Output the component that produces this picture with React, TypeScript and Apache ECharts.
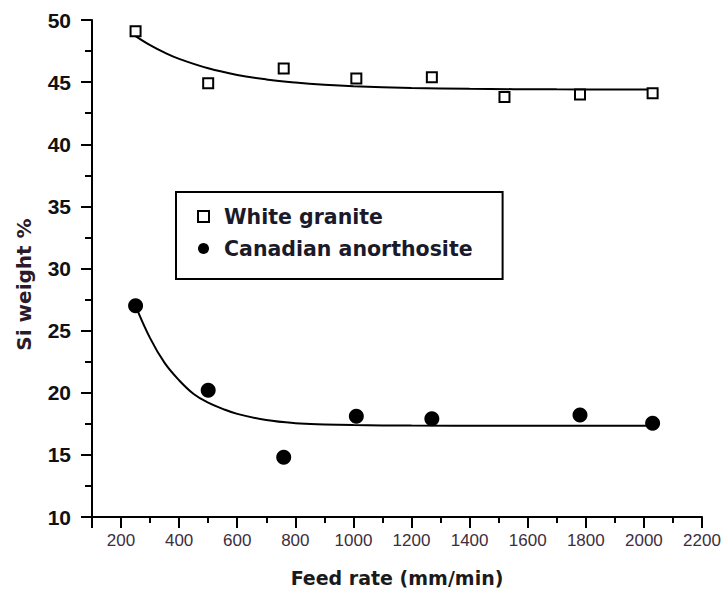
import React, { useEffect, useRef } from "react";
import * as echarts from "echarts";

// Measured points
const graniteFeed = [250, 500, 760, 1010, 1270, 1520, 1780, 2030];
const graniteSi = [49.1, 44.9, 46.1, 45.3, 45.4, 43.8, 44.0, 44.1];

const anorthFeed = [250, 500, 760, 1010, 1270, 1780, 2030];
const anorthSi = [27.0, 20.2, 14.8, 18.1, 17.9, 18.2, 17.55];

// Fitted curves
const graniteFitFeed = [250, 300, 350, 400, 500, 600, 700, 800, 900, 1000, 1200, 1400, 1700, 2030];
const graniteFitSi = [48.7, 47.97, 47.37, 46.87, 46.11, 45.58, 45.22, 44.97, 44.79, 44.67, 44.53, 44.46, 44.42, 44.4];

const anorthFitFeed = [250, 300, 350, 400, 450, 500, 550, 600, 700, 800, 900, 1000, 1200, 1500, 2030];
const anorthFitSi = [27.0, 24.4, 22.4, 21.0, 19.9, 19.2, 18.7, 18.3, 17.8, 17.55, 17.45, 17.4, 17.36, 17.35, 17.35];

const legendNames = ["White granite", "Canadian anorthosite"];

const zip = (xs: number[], ys: number[]) => xs.map((x, i) => [x, ys[i]]);

export default function App() {
  const ref = useRef<HTMLDivElement>(null);
  useEffect(() => {
    if (!ref.current) return;
    const chart = echarts.init(ref.current, undefined, { renderer: "svg" });
    const black = "#000";
    chart.setOption({
      animation: false,
      backgroundColor: "#fff",
      grid: { left: 92, right: 23, top: 20, bottom: 82 },
      legend: {
        data: [
          { name: legendNames[0], icon: "rect" },
          { name: legendNames[1], icon: "circle" },
        ],
        orient: "vertical",
        left: 176,
        top: 192,
        itemWidth: 11,
        itemHeight: 11,
        itemGap: 11,
        padding: [14, 30, 20, 21],
        borderColor: black,
        borderWidth: 2,
        backgroundColor: "#fff",
        textStyle: {
          fontFamily: "DejaVu Sans",
          fontWeight: "bold",
          fontSize: 20.5,
          color: "#1a1a2a",
          padding: [0, 0, 0, 10],
        },
      },
      xAxis: {
        type: "value",
        min: 100,
        max: 2200,
        splitNumber: 10,
        axisLine: { show: true, onZero: false, lineStyle: { color: black, width: 2 } },
        axisTick: { show: true, length: 11, lineStyle: { color: black, width: 2 } },
        minorTick: { show: true, splitNumber: 2, length: 6, lineStyle: { color: black, width: 2 } },
        splitLine: { show: false },
        minorSplitLine: { show: false },
        axisLabel: {
          showMinLabel: false,
          margin: 15,
          fontSize: 17,
          fontFamily: "Liberation Sans",
          color: "#3d2d3d",
          formatter: (v: number) => String(v),
        },
        name: "Feed rate (mm/min)",
        nameLocation: "middle",
        nameGap: 51,
        nameTextStyle: {
          fontFamily: "DejaVu Sans",
          fontWeight: "bold",
          fontSize: 19,
          color: "#1a1a1a",
        },
      },
      yAxis: {
        type: "value",
        min: 10,
        max: 50,
        interval: 5,
        axisLine: { show: true, onZero: false, lineStyle: { color: black, width: 2 } },
        axisTick: { show: true, length: 11, lineStyle: { color: black, width: 2 } },
        minorTick: { show: true, splitNumber: 2, length: 7, lineStyle: { color: black, width: 2 } },
        splitLine: { show: false },
        minorSplitLine: { show: false },
        axisLabel: {
          margin: 21,
          fontSize: 21,
          fontWeight: "bold",
          fontFamily: "Liberation Sans",
          color: "#111",
        },
        name: "Si weight %",
        nameLocation: "middle",
        nameGap: 58,
        nameTextStyle: {
          fontFamily: "DejaVu Sans",
          fontWeight: "bold",
          fontSize: 20,
          color: "#2a1a2a",
          padding: [0, 32, 0, 0],
        },
      },
      series: [
        {
          name: "granite fit",
          type: "line",
          data: zip(graniteFitFeed, graniteFitSi),
          smooth: 0.4,
          showSymbol: false,
          lineStyle: { color: black, width: 2 },
          z: 2,
        },
        {
          name: "anorthosite fit",
          type: "line",
          data: zip(anorthFitFeed, anorthFitSi),
          smooth: 0.4,
          showSymbol: false,
          lineStyle: { color: black, width: 2 },
          z: 2,
        },
        {
          name: legendNames[0],
          type: "scatter",
          data: zip(graniteFeed, graniteSi),
          symbol: "rect",
          symbolSize: 10,
          itemStyle: { color: "#fff", borderColor: black, borderWidth: 2, opacity: 1 },
          z: 3,
        },
        {
          name: legendNames[1],
          type: "scatter",
          data: zip(anorthFeed, anorthSi),
          symbol: "circle",
          symbolSize: 15,
          itemStyle: { color: black, opacity: 1 },
          z: 3,
        },
      ],
    });
    return () => chart.dispose();
  }, []);
  return (
    <div
      ref={ref}
      style={{ position: "absolute", left: 0, top: 0, width: 725, height: 599 }}
    />
  );
}
